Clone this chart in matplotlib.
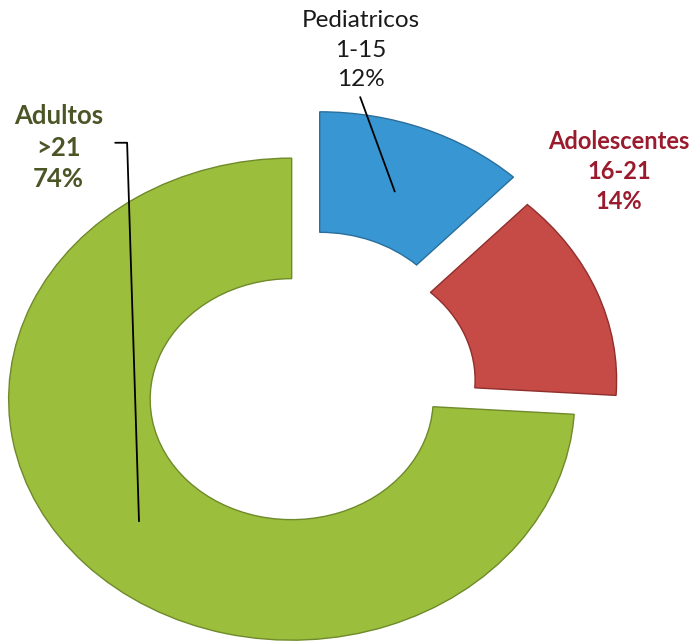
import numpy as np
import matplotlib.pyplot as plt

# datos del grafico
grupos = ['Pediatricos', 'Adolescentes', 'Adultos']
rangos = ['1-15', '16-21', '>21']
porcentajes = [12, 14, 74]

colores = ['#3896D3', '#C64A46', '#9CBE3D']
bordes = ['#2a6f9c', '#8f2f2c', '#6f8a2a']
colores_texto = ['#1a1a1a', '#9B1B2E', '#4B5526']
separacion = [0.17, 0.12, 0.05]

fig = plt.figure(figsize=(6.94, 6.43), dpi=100)
ax = fig.add_axes([0, 0, 1, 1])

wedges, _ = ax.pie(porcentajes, colors=colores, startangle=90, counterclock=False,
                   explode=separacion, radius=1.0,
                   wedgeprops=dict(width=0.5, linewidth=1.0))
for w, b in zip(wedges, bordes):
    w.set_edgecolor(b)

# la dona sale un poco achatada en la imagen original
ax.set_aspect('auto')
ax.set_xlim(-1.067, 1.385)
ax.set_ylim(-1.046, 1.622)
ax.axis('off')

# etiquetas
fuente = 'Lato'
ax.text(0.520, 0.984, f'{grupos[0]}\n{rangos[0]}\n{porcentajes[0]}%', transform=ax.transAxes,
        ha='center', va='top', fontsize=17.5, color=colores_texto[0], family=fuente,
        linespacing=1.5)
ax.text(0.892, 0.798, f'{grupos[1]}\n{rangos[1]}\n{porcentajes[1]}%', transform=ax.transAxes,
        ha='center', va='top', fontsize=17, fontweight='bold', color=colores_texto[1],
        family=fuente, linespacing=1.37)
ax.text(0.084, 0.838, f'{grupos[2]}\n{rangos[2]}\n{porcentajes[2]}%', transform=ax.transAxes,
        ha='center', va='top', fontsize=18.5, fontweight='bold', color=colores_texto[2],
        family=fuente, linespacing=1.38)

# lineas guia hacia el centro de cada porcion
def punto_medio(w, r=0.74):
    ang = np.deg2rad((w.theta1 + w.theta2) / 2)
    cx, cy = w.center
    return cx + r * np.cos(ang), cy + r * np.sin(ang)

ax.annotate('', xy=punto_medio(wedges[0], 0.72), xycoords='data',
            xytext=(0.519, 0.849), textcoords='axes fraction',
            arrowprops=dict(arrowstyle='-', color='black', lw=1.3, shrinkA=0, shrinkB=0))
ax.annotate('', xy=punto_medio(wedges[2], 0.74), xycoords='data',
            xytext=(0.166, 0.778), textcoords='axes fraction',
            arrowprops=dict(arrowstyle='-', color='black', lw=1.3, shrinkA=0, shrinkB=0,
                            connectionstyle='angle,angleA=0,angleB=91.8,rad=0'))

fig.savefig('out.png', dpi=100)
